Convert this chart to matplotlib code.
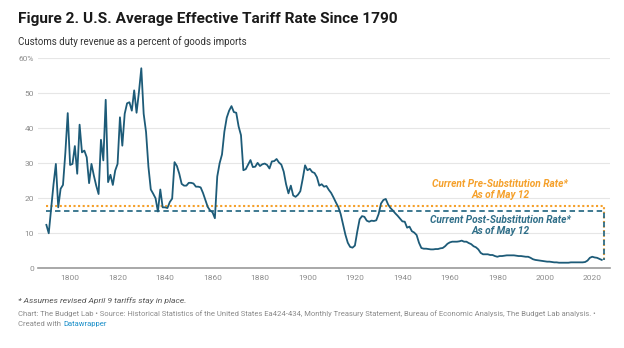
import numpy as np
import matplotlib.pyplot as plt

plt.rcParams['font.family'] = ['Roboto', 'DejaVu Sans']

# average effective tariff rate, customs duties as % of goods imports
years = list(range(1790, 2025))
rate = [
    12.4, 10.0, 16.9, 23.9, 29.8, 17.4, 22.7, 23.8, 33.0, 44.3,   # 1790s
    29.5, 29.8, 34.9, 27.0, 41.0, 33.1, 33.6, 31.7, 24.3, 29.8,   # 1800s
    26.5, 23.6, 21.2, 36.7, 30.8, 48.1, 24.6, 26.7, 23.8, 27.9,   # 1810s
    29.8, 43.1, 35.0, 44.1, 47.1, 47.4, 45.0, 50.8, 44.4, 50.3,   # 1820s
    57.1, 44.1, 38.9, 29.0, 22.5, 21.3, 20.0, 16.2, 22.5, 17.4,   # 1830s
    17.4, 17.2, 18.9, 19.9, 30.3, 29.2, 27.0, 24.1, 23.6, 23.6,   # 1840s
    24.4, 24.4, 24.2, 23.3, 23.3, 23.1, 21.5, 19.5, 17.5, 16.5,   # 1850s
    16.0, 14.3, 26.2, 30.0, 32.5, 39.0, 43.0, 45.0, 46.3, 44.6,   # 1860s
    44.4, 40.5, 38.0, 28.0, 28.3, 29.6, 30.9, 28.9, 29.0, 30.1,   # 1870s
    29.2, 29.7, 29.9, 29.5, 28.5, 30.5, 30.6, 31.2, 30.2, 29.6,   # 1880s
    27.6, 24.0, 21.4, 23.6, 20.8, 20.4, 21.0, 22.0, 25.5, 29.4,   # 1890s
    28.0, 28.4, 27.5, 27.2, 26.0, 23.6, 24.0, 23.3, 23.5, 22.4,   # 1900s
    21.5, 20.2, 18.8, 17.5, 15.5, 12.5, 9.6, 7.3, 6.1, 5.9,       # 1910s
    6.5, 10.5, 14.0, 14.9, 14.7, 13.6, 13.3, 13.6, 13.5, 13.7,    # 1920s
    15.5, 18.5, 19.5, 19.8, 18.2, 17.2, 16.5, 15.7, 15.0, 14.2,   # 1930s
    13.4, 13.3, 11.6, 11.9, 10.6, 10.2, 9.5, 7.3, 5.8, 5.6,       # 1940s
    5.6, 5.5, 5.4, 5.4, 5.5, 5.5, 5.7, 5.8, 6.3, 7.0,             # 1950s
    7.4, 7.6, 7.6, 7.6, 7.7, 7.9, 7.6, 7.6, 7.2, 6.9,             # 1960s
    6.3, 6.0, 5.4, 4.4, 4.0, 4.0, 4.0, 3.8, 3.8, 3.5,             # 1970s
    3.3, 3.5, 3.5, 3.6, 3.7, 3.7, 3.7, 3.7, 3.6, 3.5,             # 1980s
    3.5, 3.4, 3.3, 3.3, 3.0, 2.6, 2.4, 2.3, 2.2, 2.1,             # 1990s
    2.0, 1.9, 1.9, 1.8, 1.7, 1.7, 1.6, 1.6, 1.6, 1.6,             # 2000s
    1.6, 1.7, 1.7, 1.7, 1.7, 1.7, 1.7, 1.8, 2.2, 3.0,             # 2010s
    3.3, 3.1, 3.0, 2.7, 2.4,                                      # 2020s
]

current_year = 2025
pre_sub_rate = 17.8
post_sub_rate = 16.4

yticks = [0, 10, 20, 30, 40, 50, 60]
ytick_labels = ['0', '10', '20', '30', '40', '50', '60%']
xticks = [1800, 1820, 1840, 1860, 1880, 1900, 1920, 1940, 1960, 1980, 2000, 2020]

line_color = '#1d5b78'
pre_color = '#f5a02a'
post_color = '#2f6e88'


def fit_width(txt, width_px):
    # rescale a text so that its rendered width is width_px pixels
    r = fig.canvas.get_renderer()
    w = txt.get_window_extent(r).width
    txt.set_fontsize(txt.get_fontsize() * width_px / w)


fig = plt.figure(figsize=(6.24, 3.48), dpi=100)
ax = fig.add_axes([0.061, 0.229, 0.917, 0.604])

# reference rates drawn across the full history, then dropping to the latest year
ax.plot([years[0], current_year, current_year], [pre_sub_rate, pre_sub_rate, rate[-1]],
        color=pre_color, lw=1.5, ls=(0, (1, 1.2)), zorder=2)
ax.plot([years[0], current_year, current_year], [post_sub_rate, post_sub_rate, rate[-1]],
        color=post_color, lw=1.3, ls=(0, (3, 2)), zorder=2)
ax.plot(years, rate, color=line_color, lw=1.3, zorder=3, solid_joinstyle='round')

ax.set_xlim(1786.5, 2027.6)
ax.set_ylim(0, 60)
ax.set_yticks(yticks)
ax.set_yticklabels(ytick_labels)
ax.set_xticks(xticks)
ax.grid(axis='y', color='#e6e6e6', lw=0.8, zorder=0)
for s in ['top', 'right', 'left']:
    ax.spines[s].set_visible(False)
ax.spines['bottom'].set_color('#9a9a9a')
ax.spines['bottom'].set_linewidth(1.2)
ax.spines['bottom'].set_zorder(4)
ax.tick_params(axis='both', length=0, labelsize=6, colors='#8c8c8c')
ax.tick_params(axis='y', pad=3)
ax.tick_params(axis='x', pad=4.5)

ann_x = 1981.2
pre1 = ax.text(ann_x, 24.1, 'Current Pre-Substitution Rate*', color=pre_color,
               fontsize=6.5, fontweight='bold', style='italic', ha='center', va='center')
pre2 = ax.text(ann_x, 20.9, 'As of May 12', color=pre_color,
               fontsize=6.5, fontweight='bold', style='italic', ha='center', va='center')
post1 = ax.text(ann_x, 13.8, 'Current Post-Substitution Rate*', color=post_color,
                fontsize=6.5, fontweight='bold', style='italic', ha='center', va='center')
post2 = ax.text(ann_x, 10.7, 'As of May 12', color=post_color,
                fontsize=6.5, fontweight='bold', style='italic', ha='center', va='center')

x0 = 0.029
title = fig.text(x0, 0.946, 'Figure 2. U.S. Average Effective Tariff Rate Since 1790',
                 fontsize=13, fontweight='bold', color='#1a1a1a', va='center')
subtitle = fig.text(x0, 0.882, 'Customs duty revenue as a percent of goods imports',
                    fontsize=7, color='#333333', va='center')

note = fig.text(x0, 0.137, '* Assumes revised April 9 tariffs stay in place.',
                fontsize=6, style='italic', color='#555555', va='center')
source = fig.text(x0, 0.099, 'Chart: The Budget Lab \u2022 Source: Historical Statistics of the United States '
                  'Ea424-434, Monthly Treasury Statement, Bureau of Economic Analysis, The Budget Lab analysis. \u2022',
                  fontsize=5.5, color='#8a8a8a', va='center')
created = fig.text(x0, 0.069, 'Created with ', fontsize=5.5, color='#8a8a8a', va='center')

fig.canvas.draw()
fit_width(title, 378)
fit_width(subtitle, 230)
fit_width(note, 168)
fit_width(source, 580)
created.set_fontsize(source.get_fontsize())
pre_size = 6.5 * 136 / pre1.get_window_extent(fig.canvas.get_renderer()).width
for t in (pre1, pre2, post1, post2):
    t.set_fontsize(pre_size)

fig.canvas.draw()
bb = created.get_window_extent().transformed(fig.transFigure.inverted())
fig.text(bb.x1, 0.069, 'Datawrapper', fontsize=source.get_fontsize(), color='#1a8fc9', va='center')

fig.savefig('out.png', dpi=100)
